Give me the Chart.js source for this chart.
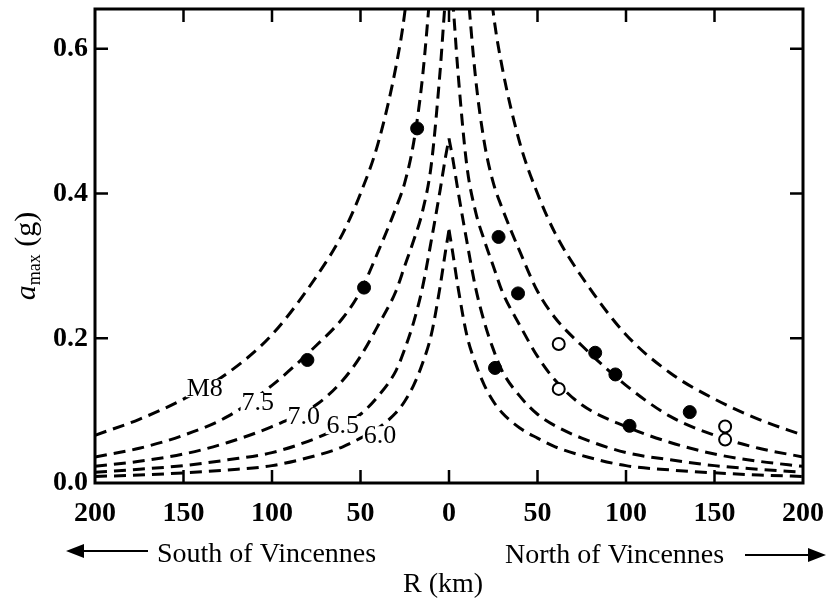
<!DOCTYPE html>
<html><head><meta charset="utf-8">
<script src="https://cdn.jsdelivr.net/npm/chart.js@4"></script>
<style>html,body{margin:0;padding:0;background:#fff;} #wrap{width:828px;height:599px;position:relative;}</style>
</head><body><div id="wrap"><canvas id="c" width="828" height="599"></canvas></div>
<script>
// distance from Vincennes (km), one side; curves are symmetric north/south
const distances = [0, 2, 5, 10, 15, 20, 25, 30, 40, 50, 60, 75, 100, 125, 150, 175, 200];
const curveM80 = [2.0, 1.8, 1.5, 1.15, 0.93, 0.77, 0.65, 0.575, 0.47, 0.40, 0.345, 0.285, 0.205, 0.152, 0.116, 0.088, 0.066];
const curveM75 = [1.05, 0.97, 0.86, 0.70, 0.56, 0.47, 0.415, 0.38, 0.32, 0.265, 0.228, 0.19, 0.135, 0.092, 0.066, 0.048, 0.036];
const curveM70 = [0.72, 0.67, 0.57, 0.44, 0.375, 0.335, 0.30, 0.265, 0.218, 0.175, 0.142, 0.108, 0.078, 0.056, 0.040, 0.030, 0.023];
const curveM65 = [0.476, 0.45, 0.405, 0.335, 0.27, 0.222, 0.185, 0.155, 0.12, 0.095, 0.079, 0.062, 0.042, 0.032, 0.024, 0.019, 0.015];
const curveM60 = [0.350, 0.32, 0.272, 0.205, 0.165, 0.135, 0.113, 0.097, 0.076, 0.062, 0.050, 0.038, 0.024, 0.018, 0.014, 0.011, 0.009];
const curveNames = ['M8', '7.5', '7.0', '6.5', '6.0'];
const curveLabelR = [-138, -108, -82, -60, -39];
const curveLabelA = [0.131, 0.112, 0.092, 0.080, 0.066];

// observed peak accelerations (negative R = south of Vincennes)
const filledR = [-80, -48, -18, 26, 28, 39, 82.6, 94, 102, 136];
const filledA = [0.17, 0.27, 0.49, 0.159, 0.34, 0.262, 0.18, 0.15, 0.079, 0.098];
const openR = [62, 62, 156, 156];
const openA = [0.192, 0.13, 0.078, 0.06];

const xTicks = [-200, -150, -100, -50, 0, 50, 100, 150, 200];
const yTicks = [0, 0.2, 0.4, 0.6];

const curves = [curveM80, curveM75, curveM70, curveM65, curveM60];
const datasets = [];
curves.forEach((vals, k) => {
  const right = distances.map((r, i) => ({x: r, y: vals[i]}));
  const left = distances.map((r, i) => ({x: -r, y: vals[i]})).reverse();
  [left, right].forEach(d => datasets.push({
    type: 'line', label: curveNames[k], data: d,
    borderColor: '#000', borderWidth: 3, borderDash: [12, 7],
    pointRadius: 0, fill: false, cubicInterpolationMode: 'monotone',
    clip: 0, order: 2
  }));
});
datasets.push({
  type: 'scatter', label: 'filled', data: filledR.map((r, i) => ({x: r, y: filledA[i]})),
  pointRadius: 6.5, pointBackgroundColor: '#000', pointBorderColor: '#000', pointBorderWidth: 1, order: 0
});
datasets.push({
  type: 'scatter', label: 'open', data: openR.map((r, i) => ({x: r, y: openA[i]})),
  pointRadius: 6, pointBackgroundColor: '#fff', pointBorderColor: '#000', pointBorderWidth: 2, order: 0
});

const SERIF = "'Liberation Serif', 'DejaVu Serif', serif";

const decor = {
  id: 'decor',
  afterDatasetsDraw(chart) {
    const ctx = chart.ctx, xs = chart.scales.x, ys = chart.scales.y;
    ctx.save();
    ctx.font = "26px " + SERIF;
    ctx.textAlign = 'center';
    ctx.textBaseline = 'middle';
    curveNames.forEach((t, i) => {
      const px = xs.getPixelForValue(curveLabelR[i]);
      const py = ys.getPixelForValue(curveLabelA[i]);
      const w = ctx.measureText(t).width;
      ctx.fillStyle = '#fff';
      ctx.fillRect(px - w / 2 - 1, py - 9, w + 2, 18);
      ctx.fillStyle = '#000';
      ctx.fillText(t, px, py + 1);
    });
    ctx.restore();
  },
  afterDraw(chart) {
    const ctx = chart.ctx, a = chart.chartArea, xs = chart.scales.x, ys = chart.scales.y;
    ctx.save();
    ctx.strokeStyle = '#000';
    ctx.lineWidth = 3;
    ctx.strokeRect(a.left, a.top, a.right - a.left, a.bottom - a.top);
    ctx.lineWidth = 2.5;
    const TL = 13;
    ctx.beginPath();
    xTicks.forEach(v => {
      if (v === xTicks[0] || v === xTicks[xTicks.length - 1]) return;
      const px = xs.getPixelForValue(v);
      ctx.moveTo(px, a.bottom); ctx.lineTo(px, a.bottom - TL);
      ctx.moveTo(px, a.top); ctx.lineTo(px, a.top + TL);
    });
    yTicks.forEach(v => {
      if (v === 0) return;
      const py = ys.getPixelForValue(v);
      ctx.moveTo(a.left, py); ctx.lineTo(a.left + TL, py);
      ctx.moveTo(a.right, py); ctx.lineTo(a.right - TL, py);
    });
    ctx.stroke();

    // direction annotations
    ctx.fillStyle = '#000';
    ctx.font = "28px " + SERIF;
    ctx.textBaseline = 'alphabetic';
    ctx.textAlign = 'left';
    ctx.fillText('South of Vincennes', 157, 562);
    ctx.fillText('North of Vincennes', 505, 563);
    ctx.fillText('R (km)', 403, 592);
    ctx.lineWidth = 2.2;
    ctx.beginPath();
    ctx.moveTo(78, 551); ctx.lineTo(148, 551);
    ctx.moveTo(745, 555); ctx.lineTo(814, 555);
    ctx.stroke();
    ctx.beginPath();
    ctx.moveTo(66, 551); ctx.lineTo(84, 544); ctx.lineTo(84, 558); ctx.closePath();
    ctx.moveTo(826, 555); ctx.lineTo(808, 548); ctx.lineTo(808, 562); ctx.closePath();
    ctx.fill();

    // y axis title: a_max (g)
    ctx.save();
    ctx.translate(35, 256);
    ctx.rotate(-Math.PI / 2);
    const f1 = "italic 30px " + SERIF, f2 = "18px " + SERIF, f3 = "30px " + SERIF;
    ctx.font = f1; const w1 = ctx.measureText('a').width;
    ctx.font = f2; const w2 = ctx.measureText('max').width;
    ctx.font = f3; const w3 = ctx.measureText(' (g)').width;
    let x0 = -(w1 + w2 + w3) / 2;
    ctx.font = f1; ctx.fillText('a', x0, 0); x0 += w1;
    ctx.font = f2; ctx.fillText('max', x0, 5); x0 += w2;
    ctx.font = f3; ctx.fillText(' (g)', x0, 0);
    ctx.restore();
    ctx.restore();
  }
};

new Chart(document.getElementById('c'), {
  data: { datasets },
  options: {
    responsive: false, animation: false,
    layout: { padding: { top: 9, right: 25, left: 0, bottom: 0 } },
    plugins: { legend: { display: false }, tooltip: { enabled: false } },
    scales: {
      x: {
        type: 'linear', min: -200, max: 200,
        grid: { display: false, drawTicks: false }, border: { display: false },
        afterBuildTicks: s => { s.ticks = xTicks.map(v => ({value: v})); },
        afterFit: s => { s.height = 116; s.paddingLeft = 0; s.paddingRight = 0; },
        ticks: { autoSkip: false, maxRotation: 0, padding: 14, color: '#000',
          font: { family: SERIF, size: 28, weight: 'bold' },
          callback: v => String(Math.abs(v)) }
      },
      y: {
        type: 'linear', min: 0, max: 0.655,
        grid: { display: false, drawTicks: false }, border: { display: false },
        afterBuildTicks: s => { s.ticks = yTicks.map(v => ({value: v})); },
        afterFit: s => { s.width = 95; s.paddingTop = 0; s.paddingBottom = 0; },
        ticks: { padding: 7, color: '#000',
          font: { family: SERIF, size: 28, weight: 'bold' },
          callback: v => Number(v).toFixed(1) }
      }
    }
  },
  plugins: [decor]
});
</script></body></html>
